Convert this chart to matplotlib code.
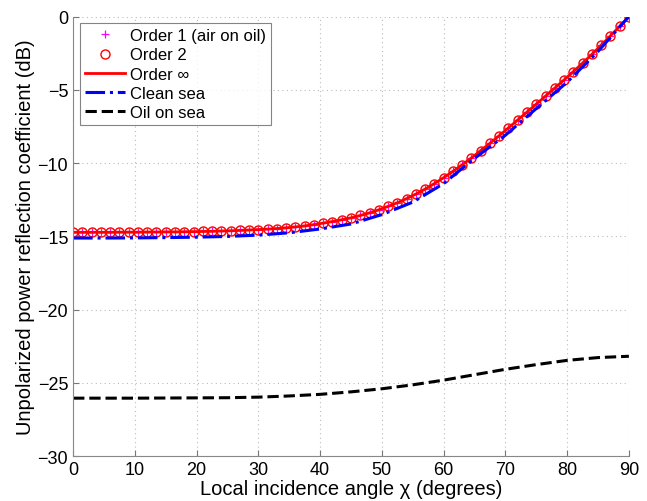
import matplotlib
matplotlib.use("Agg")
import matplotlib.pyplot as plt

plt.rcParams['font.family'] = ['Liberation Sans', 'DejaVu Sans']

# incidence angles (degrees) for the layered-model curves
chi = [0, 1.5, 3, 4.5, 6, 7.5, 9, 10.5, 12, 13.5, 15, 16.5, 18, 19.5, 21, 22.5,
       24, 25.5, 27, 28.5, 30, 31.5, 33, 34.5, 36, 37.5, 39, 40.5, 42, 43.5, 45,
       46.5, 48, 49.5, 51, 52.5, 54, 55.5, 57, 58.5, 60, 61.5, 63, 64.5, 66,
       67.5, 69, 70.5, 72, 73.5, 75, 76.5, 78, 79.5, 81, 82.5, 84, 85.5, 87,
       88.5, 90]

# reflection coefficient in dB, air/oil interface
order_inf = [-14.73, -14.73, -14.73, -14.73, -14.73, -14.72, -14.72, -14.72,
             -14.71, -14.71, -14.70, -14.70, -14.69, -14.68, -14.67, -14.66,
             -14.64, -14.62, -14.60, -14.57, -14.54, -14.51, -14.47, -14.42,
             -14.36, -14.29, -14.20, -14.10, -13.99, -13.87, -13.74, -13.58,
             -13.40, -13.19, -12.96, -12.71, -12.43, -12.12, -11.78, -11.40,
             -11.00, -10.57, -10.12, -9.65, -9.15, -8.65, -8.13, -7.60, -7.06,
             -6.52, -5.98, -5.43, -4.88, -4.33, -3.76, -3.18, -2.58, -1.96,
             -1.32, -0.67, 0.00]
order_1 = order_inf
order_2 = order_inf

# sea surface curves
chi_sea = [0, 5, 10, 15, 20, 25, 30, 35, 40, 45, 50, 55, 60, 65, 70, 75, 80, 85, 90]
clean_sea = [-15.12, -15.12, -15.11, -15.09, -15.06, -15.01, -14.92, -14.76,
             -14.50, -14.16, -13.52, -12.67, -11.40, -9.68, -8.10, -6.28,
             -4.48, -2.38, 0.00]
oil_on_sea = [-26.05, -26.05, -26.05, -26.04, -26.03, -26.02, -25.98, -25.90,
              -25.79, -25.62, -25.41, -25.14, -24.82, -24.45, -24.08, -23.76,
              -23.47, -23.28, -23.19]

fig = plt.figure(figsize=(6.47, 5.02), dpi=100)
ax = fig.add_axes([0.113, 0.0896, 0.859, 0.8754])

ax.plot(chi, order_1, '+', color='#ff00ff', markersize=6, markeredgewidth=0.9,
        label='Order 1 (air on oil)')
ax.plot(chi, order_2, 'o', color='#ff0000', markerfacecolor='none',
        markersize=6.5, markeredgewidth=1.0, label='Order 2')
ax.plot(chi, order_inf, '-', color='#ff0000', linewidth=2.0, label='Order \u221e')
ax.plot(chi_sea, clean_sea, '-.', color='#0000ff', linewidth=2.2, label='Clean sea')
ax.plot(chi_sea, oil_on_sea, '--', color='black', linewidth=2.2, label='Oil on sea')

ax.set_xlim(0, 90)
ax.set_ylim(-30, 0)
ax.set_xticks(range(0, 91, 10))
ax.set_yticks(range(-30, 1, 5))
ax.tick_params(direction='in', labelsize=13, length=4, color='#777777')
ax.grid(True, linestyle=(0, (1, 3)), color='#bbbbbb', linewidth=0.8)
for s in ['top', 'right']:
    ax.spines[s].set_visible(False)
for s in ['left', 'bottom']:
    ax.spines[s].set_color('#888888')

ax.set_xlabel('Local incidence angle \u03c7 (degrees)', fontsize=14.5, labelpad=1)
ax.set_ylabel('Unpolarized power reflection coefficient (dB)', fontsize=14.5, labelpad=2)

leg = ax.legend(loc='upper left', fontsize=12, frameon=True, fancybox=False,
                edgecolor='#666666', borderaxespad=0.4, handlelength=2.4,
                handletextpad=0.3, labelspacing=0.25, borderpad=0.3)
leg.get_frame().set_linewidth(0.8)

fig.savefig('out.png', dpi=100)
